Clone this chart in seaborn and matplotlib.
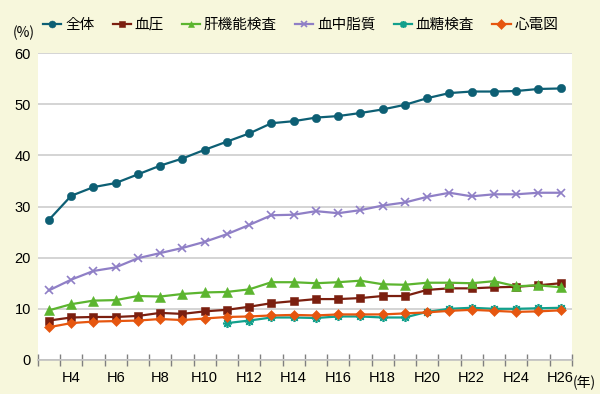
import matplotlib as mpl
mpl.use('agg')
import matplotlib.pyplot as plt
from matplotlib.ticker import FixedLocator, NullFormatter
import numpy as np
import pandas as pd
import seaborn as sns

# data (percent), H3 .. H26
years = [f'H{i}' for i in range(3, 27)]
zentai = [27.4, 32.1, 33.8, 34.6, 36.3, 38.0, 39.4, 41.1, 42.7, 44.3, 46.3, 46.7,
          47.4, 47.7, 48.3, 49.0, 49.9, 51.2, 52.2, 52.5, 52.5, 52.6, 53.0, 53.1]
ketsuatsu = [7.7, 8.3, 8.4, 8.4, 8.6, 9.2, 9.0, 9.5, 9.8, 10.4, 11.1, 11.5,
             11.9, 11.9, 12.1, 12.5, 12.5, 13.7, 14.0, 14.0, 14.2, 14.3, 14.6, 15.0]
kankino = [9.7, 10.9, 11.6, 11.7, 12.5, 12.4, 12.9, 13.2, 13.3, 13.8, 15.2, 15.2,
           15.0, 15.2, 15.5, 14.8, 14.7, 15.1, 15.1, 15.0, 15.4, 14.4, 14.6, 14.2]
shishitsu = [13.6, 15.7, 17.4, 18.1, 19.9, 20.9, 21.9, 23.1, 24.6, 26.4, 28.3, 28.4,
             29.1, 28.7, 29.3, 30.2, 30.8, 31.9, 32.7, 32.0, 32.4, 32.4, 32.7, 32.7]
kettou = [None] * 8 + [7.2, 7.7, 8.3, 8.3, 8.2, 8.5, 8.5, 8.3, 8.3, 9.4,
                       10.0, 10.2, 10.0, 10.0, 10.1, 10.2]
shindenzu = [6.4, 7.2, 7.5, 7.6, 7.7, 8.0, 7.8, 8.1, 8.4, 8.5, 8.7, 8.8,
             8.7, 8.9, 8.9, 8.9, 9.1, 9.3, 9.6, 9.8, 9.6, 9.4, 9.5, 9.7]

names = ['全体', '血圧', '肝機能検査', '血中脂質', '血糖検査', '心電図']
series = [zentai, ketsuatsu, kankino, shishitsu, kettou, shindenzu]
colors = ['#0d5f74', '#7b1f0f', '#5cb52f', '#8f7fc6', '#12a08c', '#e6560f']
markers = ['o', 's', '^', 'x', (8, 2, 0), 'D']
msizes = [6, 5.8, 6.5, 5.5, 6.5, 5.2]

rows = []
for name, vals in zip(names, series):
    for i, v in enumerate(vals):
        rows.append({'idx': i, 'value': v, 'item': name})
df = pd.DataFrame(rows).dropna()

jp = ['Noto Sans CJK JP', 'DejaVu Sans']
bg = '#f7f7dc'
fig = plt.figure(figsize=(6, 3.94), dpi=100, facecolor=bg)
ax = fig.add_axes([0.063, 0.0865, 0.89, 0.7785])
ax.set_facecolor('white')

for name, c, m, ms in zip(names, colors, markers, msizes):
    sub = df[df['item'] == name]
    thin = m in ['x', (8, 2, 0)]
    sns.lineplot(data=sub, x='idx', y='value', ax=ax, color=c, marker=m,
                 markersize=ms, markeredgecolor=c, markeredgewidth=1.2 if thin else 0.4,
                 linewidth=1.6, label=name, zorder=3)

ax.set_xlim(-0.5, len(years) - 0.5)
ax.set_ylim(0, 60)
ax.set_yticks(range(0, 61, 10))
ax.yaxis.grid(True, color='#d4d4d4', linewidth=1.4)
ax.set_axisbelow(True)
for s in ['top', 'right', 'left']:
    ax.spines[s].set_visible(False)
ax.spines['bottom'].set_color('#c0c0c0')
ax.spines['bottom'].set_linewidth(1.2)
ax.tick_params(axis='y', length=0, labelsize=10.5, pad=5)

# category boundary ticks, labels every other year
ax.xaxis.set_major_locator(FixedLocator(np.arange(-0.5, len(years), 1.0)))
ax.xaxis.set_major_formatter(NullFormatter())
lab_pos = list(range(1, len(years), 2))
ax.xaxis.set_minor_locator(FixedLocator(lab_pos))
ax.set_xticklabels([years[i] for i in lab_pos], minor=True)
ax.tick_params(axis='x', which='major', direction='inout', length=8.5,
               color='#808080', width=1)
ax.tick_params(axis='x', which='minor', length=0, labelsize=10.5, pad=8)
for lab in ax.get_xticklabels(minor=True) + ax.get_yticklabels():
    lab.set_family(['Liberation Sans', 'DejaVu Sans'])
ax.set_xlabel('')
ax.set_ylabel('')

fig.text(0.022, 0.916, '(%)', fontsize=10, ha='left', va='center', family=jp)
fig.text(0.955, 0.028, '(年)', fontsize=10, ha='left', va='center', family=jp)

leg = ax.legend(loc='center left', bbox_to_anchor=(0.072, 0.937), bbox_transform=fig.transFigure,
                ncol=6, frameon=False, handlelength=1.25, handletextpad=0.25,
                columnspacing=1.25, borderpad=0, borderaxespad=0,
                prop={'family': jp, 'size': 10.5})
for h in leg.legend_handles:
    h.set_markersize(5)

plt.savefig('out.png', dpi=100, facecolor=bg)
